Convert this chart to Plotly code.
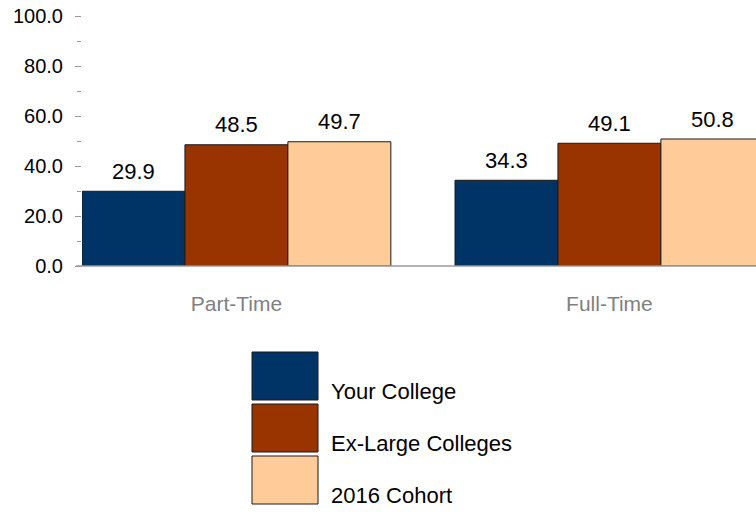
import plotly.graph_objects as go

categories = ["Part-Time", "Full-Time"]
series_names = ["Your College", "Ex-Large Colleges", "2016 Cohort"]
your_college = [29.9, 34.3]
ex_large = [48.5, 49.1]
cohort_2016 = [49.7, 50.8]
series_values = [your_college, ex_large, cohort_2016]
colors = ["#003366", "#993300", "#FFCC99"]
y_ticks = [0, 20, 40, 60, 80, 100]

W, H = 756, 512
ML, MT = 82, 16
PW = W - ML
PH = 250
MB = H - MT - PH

BARGAP = 0.172
bar_w = (1 - BARGAP) / 3
cat_px = 373.0

fig = go.Figure()
for name, vals, col in zip(series_names, series_values, colors):
    fig.add_trace(go.Bar(
        x=categories, y=vals, name=name,
        marker=dict(color=col, line=dict(color="#1a1a1a", width=1)),
        showlegend=False, hoverinfo="skip",
    ))

font = "Liberation Sans, Arial, sans-serif"

# data labels
for j, vals in enumerate(series_values):
    for i, v in enumerate(vals):
        fig.add_annotation(
            x=i + (j - 1) * bar_w, y=v, xref="x", yref="y",
            text=f"{v:.1f}", showarrow=False, yanchor="middle", yshift=20,
            font=dict(family=font, size=22, color="#000000"),
        )

# custom legend (positions given in page pixels)
def px_x(px):
    return (px - ML) / PW

def px_y(py):
    return (MT + PH - py) / PH

sw_left, sw_right = 252, 318
tops = [352, 404, 456]
sw_h = 48
for k, (name, col) in enumerate(zip(series_names, colors)):
    t = tops[k]
    b = t + sw_h
    fig.add_shape(type="rect", xref="paper", yref="paper",
                  x0=px_x(sw_left), x1=px_x(sw_right), y0=px_y(b), y1=px_y(t),
                  fillcolor=col, line=dict(color="#1a1a1a", width=1))
    fig.add_annotation(xref="paper", yref="paper", x=px_x(329), y=px_y(b - 9),
                       xanchor="left", yanchor="middle", text=name, showarrow=False,
                       font=dict(family=font, size=22, color="#000000"))

# baseline extends slightly left of the plot area, as in the reference
fig.add_shape(type="line", xref="paper", yref="paper",
              x0=px_x(76), x1=1, y0=0, y1=0,
              line=dict(color="#9a9a9a", width=1.5))

x0 = -(0.5 - BARGAP / 2)
fig.update_layout(
    width=W, height=H,
    margin=dict(l=ML, r=0, t=MT, b=MB),
    paper_bgcolor="white", plot_bgcolor="white",
    barmode="group", bargap=BARGAP, bargroupgap=0,
    font=dict(family=font, size=20, color="#000000"),
    xaxis=dict(
        range=[x0, x0 + PW / cat_px],
        showgrid=False, zeroline=False,
        showline=False,
        ticks="", ticklabelstandoff=23,
        tickfont=dict(family=font, size=21, color="#808080"),
    ),
    yaxis=dict(
        range=[0, 100], tickvals=y_ticks, tickformat=".1f",
        showgrid=False, zeroline=False, showline=False,
        ticks="outside", ticklen=6, tickcolor="#9a9a9a", tickwidth=1,
        minor=dict(dtick=10, ticks="outside", ticklen=4, tickcolor="#9a9a9a", tickwidth=1, showgrid=False),
        ticklabelstandoff=8, ticklabeloverflow="allow",
        tickfont=dict(family=font, size=20, color="#000000"),
    ),
)

fig.write_html("out.html", config={"displayModeBar": False},
               post_script="document.body.style.margin='0';document.body.style.overflow='hidden';")
